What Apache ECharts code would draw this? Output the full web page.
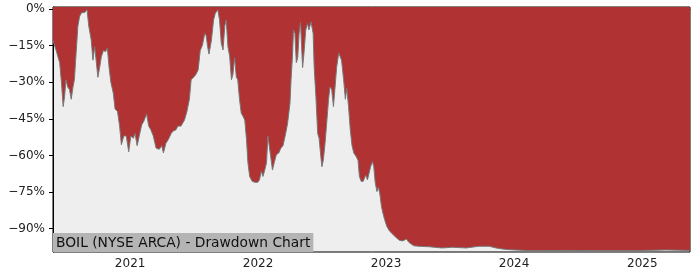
<!DOCTYPE html>
<html>
<head>
<meta charset="utf-8">
<script src="https://cdn.jsdelivr.net/npm/echarts@6/dist/echarts.min.js"></script>
<style>
html,body{margin:0;padding:0;background:#fff;}
#chart{width:700px;height:280px;}
</style>
</head>
<body>
<div id="chart"></div>
<script>
// Drawdown dates and values (percent)
const ddDates = [
"2020-05-26","2020-06-04","2020-06-14","2020-06-19","2020-06-24","2020-06-28","2020-07-02","2020-07-07","2020-07-12","2020-07-17",
"2020-07-22","2020-07-26","2020-07-31","2020-08-05","2020-08-10","2020-08-16","2020-08-24","2020-08-31","2020-09-05","2020-09-12",
"2020-09-17","2020-09-22","2020-09-26","2020-10-01","2020-10-06","2020-10-11","2020-10-17","2020-10-23","2020-10-28","2020-11-02",
"2020-11-07","2020-11-14","2020-11-19","2020-11-26","2020-12-02","2020-12-07","2020-12-14","2020-12-21","2020-12-28","2021-01-03",
"2021-01-10","2021-01-15","2021-01-21","2021-01-27","2021-02-03","2021-02-09","2021-02-17","2021-02-23","2021-03-01","2021-03-08",
"2021-03-16","2021-03-25","2021-04-01","2021-04-06","2021-04-13","2021-04-20","2021-04-28","2021-05-04","2021-05-12","2021-05-17",
"2021-05-26","2021-06-05","2021-06-12","2021-06-19","2021-06-24","2021-07-01","2021-07-07","2021-07-14","2021-07-20","2021-07-26",
"2021-08-02","2021-08-06","2021-08-10","2021-08-14","2021-08-21","2021-08-27","2021-09-01","2021-09-08","2021-09-13","2021-09-18",
"2021-09-23","2021-09-28","2021-10-02","2021-10-07","2021-10-12","2021-10-17","2021-10-21","2021-10-26","2021-10-31","2021-11-04",
"2021-11-09","2021-11-14","2021-11-19","2021-11-24","2021-11-29","2021-12-03","2021-12-08","2021-12-15","2021-12-23","2021-12-31",
"2022-01-05","2022-01-10","2022-01-15","2022-01-20","2022-01-25","2022-01-29","2022-02-02","2022-02-06","2022-02-11","2022-02-16",
"2022-02-22","2022-03-01","2022-03-07","2022-03-13","2022-03-20","2022-03-26","2022-04-02","2022-04-05","2022-04-09","2022-04-12",
"2022-04-16","2022-04-20","2022-04-24","2022-04-28","2022-05-02","2022-05-05","2022-05-08","2022-05-12","2022-05-17","2022-05-22",
"2022-05-26","2022-06-01","2022-06-04","2022-06-07","2022-06-10","2022-06-15","2022-06-20","2022-06-24","2022-06-29","2022-07-02",
"2022-07-06","2022-07-11","2022-07-15","2022-07-21","2022-07-25","2022-07-30","2022-08-04","2022-08-08","2022-08-13","2022-08-19",
"2022-08-23","2022-08-27","2022-09-02","2022-09-07","2022-09-11","2022-09-16","2022-09-21","2022-09-26","2022-10-01","2022-10-08",
"2022-10-13","2022-10-17","2022-10-22","2022-10-28","2022-11-04","2022-11-09","2022-11-13","2022-11-18","2022-11-23","2022-11-27",
"2022-12-01","2022-12-06","2022-12-10","2022-12-14","2022-12-19","2022-12-23","2022-12-28","2023-01-03","2023-01-11","2023-01-21",
"2023-01-30","2023-02-09","2023-02-18","2023-02-28","2023-03-07","2023-03-21","2023-04-05","2023-05-04","2023-06-10","2023-07-09",
"2023-08-17","2023-09-23","2023-10-22","2023-11-11","2023-11-28","2023-12-19","2024-01-17","2024-02-23","2024-05-28","2024-09-01",
"2024-12-04","2025-03-10","2025-05-17"
];
const ddValues = [
-13,-17,-22,-30,-40,-36,-29,-32,-33,-37,
-32,-29,-18,-7,-3,-1.5,-1.5,-0.3,-7,-12.7,
-21,-15.5,-21,-28,-24,-19.5,-17,-17.5,-16,-24,
-30,-34.5,-41,-42,-48,-55.6,-52,-52,-58.5,-52,
-53,-51,-56,-52,-47.5,-46,-43,-48,-49.5,-52,
-57,-57.5,-56,-59,-55,-53.5,-51,-50,-49.5,-48,
-48,-45.5,-42,-37,-29,-28,-27,-25,-17,-15,
-10,-11,-15.5,-18.5,-12.7,-4.5,-1.8,-0.3,-4.5,-14,
-16.8,-7,-4.5,-15.5,-19.5,-29,-27,-20,-28,-29,
-37,-42.7,-44,-45.5,-53.6,-63,-68.6,-70.6,-71,-71,
-70,-66.5,-68.6,-66,-63,-52,-51.7,-60.5,-66,-63,
-59.7,-59,-57,-56,-51.5,-47,-38.6,-29,-19.5,-8.6,
-10,-22,-20,-10,-5.5,-15,-24,-18,-8.6,-6,
-8.6,-5.3,-4.5,-10,-24,-36,-51,-53,-60.5,-64.6,
-62,-55,-48,-37,-32,-33,-40,-33,-24,-18,
-18.5,-21,-29,-37,-32.5,-40,-49.5,-56,-59,-60.5,
-62,-68.6,-70.6,-70.6,-68,-70,-69.5,-64.6,-62.5,-64.6,
-71,-74.8,-73,-75.4,-81,-83.6,-86.3,-89,-91,-92.4,
-93.7,-94.8,-95,-94.2,-95.6,-97,-97.2,-97.4,-97.9,-97.6,
-97.9,-97.2,-97.2,-97.9,-98.3,-98.6,-98.8,-99,-98.9,-99,
-99,-98.7,-98.9
];
const yTicks = [0,-15,-30,-45,-60,-75,-90];
const xTickYears = ["2021","2022","2023","2024","2025"];
const titleText = "BOIL (NYSE ARCA) - Drawdown Chart";

function ts(s){ return Date.UTC(+s.slice(0,4), +s.slice(5,7)-1, +s.slice(8,10)); }
const seriesData = ddDates.map((d,i)=>[ts(d), ddValues[i]]);
const xTickValues = xTickYears.map(y => Date.UTC(+y,0,1));
const FONT = "DejaVu Sans";

const chart = echarts.init(document.getElementById('chart'), null, {renderer:'canvas'});
chart.setOption({
  animation:false,
  backgroundColor:'#ffffff',
  title:{
    text:titleText,
    left:53, bottom:28,
    backgroundColor:'#b4b4b4',
    padding:[3,3,2,3],
    textStyle:{fontFamily:FONT,fontSize:13.8,fontWeight:'normal',color:'#111',lineHeight:14}
  },
  grid:{
    left:53, right:10, top:7, bottom:28,
    show:true, backgroundColor:'#eeeeee', borderColor:'#000', borderWidth:1
  },
  xAxis:{
    type:'value',
    min:ts("2020-05-26"), max:ts("2025-05-17"),
    axisLine:{show:true,lineStyle:{color:'#000',width:1}},
    axisTick:{show:true,length:4,lineStyle:{color:'#000'},customValues:xTickValues},
    axisLabel:{
      customValues:xTickValues,
      margin:6,
      fontFamily:FONT,fontSize:12,color:'#222',
      formatter:function(v){return String(new Date(v).getUTCFullYear());}
    },
    splitLine:{show:false}
  },
  yAxis:{
    type:'value',
    min:-99.55, max:0.78,
    axisLine:{show:true,lineStyle:{color:'#000',width:1}},
    axisTick:{show:true,length:4,lineStyle:{color:'#000'},customValues:yTicks},
    axisLabel:{
      customValues:yTicks,
      margin:8,
      fontFamily:FONT,fontSize:12,color:'#222',
      formatter:function(v){ return v===0 ? '0%' : '\u2212' + Math.abs(Math.round(v)) + '%'; }
    },
    splitLine:{show:false}
  },
  series:[{
    type:'line',
    data:seriesData,
    symbol:'none',
    lineStyle:{color:'#777777',width:1},
    areaStyle:{color:'#b03233',opacity:1,origin:'end'},
    z:2
  }]
});
</script>
</body>
</html>
